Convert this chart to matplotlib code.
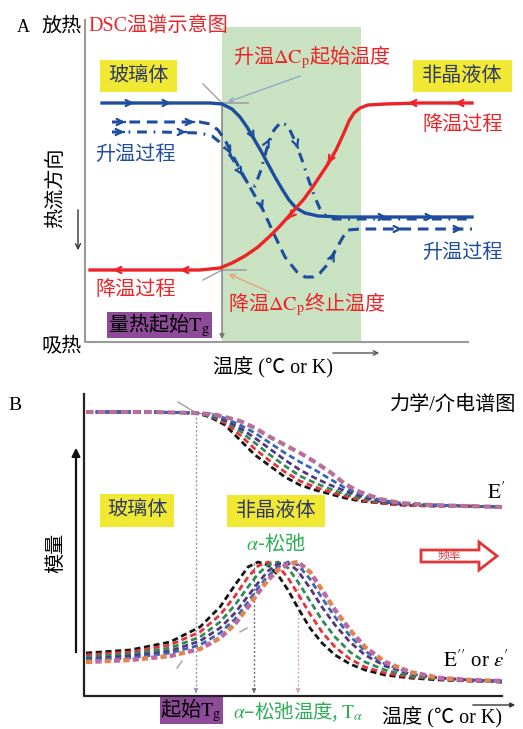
import matplotlib.pyplot as plt
from matplotlib.patches import Rectangle, FancyArrow

plt.rcParams['mathtext.fontset'] = 'stix'
CJK = 'Noto Sans CJK SC'
MIX = ['Liberation Serif', 'Noto Sans CJK SC']

BLUE = '#1f4d9e'
RED = '#ec2327'
GRN = '#2fae57'
YEL = '#f1e833'
PUR = '#8d4b98'
TXT_BOX = '#2d3a66'

# ---------------- panel A : DSC (picture units, y grows downward) ----------------
heat_solid_x = [102, 160, 210, 222, 232, 240, 247, 254, 261, 268, 275, 282, 289, 296, 305, 318, 340, 472]
heat_solid_y = [103, 103, 103, 104, 109, 117, 127, 139, 151, 164, 177, 189, 200, 208, 213, 216, 217, 217]

heat_dash_x = [112, 160, 200, 210, 218, 225, 233, 240, 247, 255, 263, 273, 285, 297, 305, 313, 320, 327, 335, 343, 348, 360, 472]
heat_dash_y = [122, 122, 122, 124, 130, 140, 156, 169, 182, 196, 210, 232, 257, 272, 277, 277, 273, 265, 251, 237, 230, 229, 229]

heat_dd_x = [112, 160, 200, 212, 222, 232, 242, 249, 255, 261, 267, 274, 281, 288, 295, 302, 308, 314, 320, 326, 334, 345, 472]
heat_dd_y = [132, 132, 133, 136, 144, 158, 174, 185, 186, 170, 148, 130, 122, 126, 141, 160, 178, 195, 209, 216, 219, 219, 219]

cool_x = [472, 420, 385, 368, 360, 354, 349, 343, 336, 328, 320, 312, 304, 296, 288, 280, 270, 258, 245, 232, 220, 200, 150, 90]
cool_y = [103, 103, 104, 105, 108, 113, 121, 135, 150, 164, 176, 188, 199, 208, 217, 226, 236, 247, 256, 263, 268, 270, 270, 270]

# arrow marks along the curves: x, y, direction x, direction y
blue_marks = [(137, 103, 1, 0), (174, 103, 1, 0), (256, 142, 0.55, 1), (390, 217, 1, 0), (437, 217, 1, 0),
              (128, 122, 1, 0), (197, 122, 1, 0), (232, 157, 0.45, 1), (264, 212, 0.4, 1), (336, 250, 0.5, -1),
              (405, 229, 1, 0), (465, 229, 1, 0),
              (127, 132, 1, 0), (189, 132, 1, 0), (244, 178, 0.6, 1), (271, 136, 0.5, -1), (299, 151, 0.35, 1)]
red_marks = [(405, 103, -1, 0), (452, 103, -1, 0), (326, 166, -0.6, 1), (286, 221, -0.8, 0.9),
             (177, 270, -1, 0), (110, 270, -1, 0)]

# ---------------- panel B : DMA / dielectric ----------------
ep_x = [86, 150, 196, 210, 225, 240, 255, 270, 285, 300, 315, 330, 345, 360, 380, 400, 430, 465, 502]
ep_black = [412, 412, 413, 417, 425, 440, 455, 466, 477, 485, 490, 494, 498, 501, 503, 505, 506, 506, 507]
ep_red = [412, 412, 413, 416, 423, 435, 449, 461, 472, 481, 487, 492, 496, 500, 503, 505, 506, 506, 507]
ep_green = [412, 412, 413, 416, 421, 431, 443, 455, 466, 476, 483, 489, 494, 498, 502, 504, 505, 506, 507]
ep_purple = [412, 412, 413, 415, 420, 428, 438, 449, 460, 470, 478, 485, 491, 496, 501, 504, 505, 506, 507]
ep_blue = [412, 412, 413, 415, 418, 425, 433, 443, 453, 462, 470, 479, 488, 494, 500, 503, 505, 506, 507]
ep_mauve = [412, 412, 413, 414, 417, 421, 428, 437, 445, 453, 462, 472, 484, 492, 499, 503, 505, 506, 507]

epp_x = [86, 130, 170, 200, 220, 235, 248, 258, 268, 278, 288, 298, 310, 322, 335, 350, 365, 385, 410, 440, 470, 502]
epp_black = [653, 650, 642, 627, 607, 585, 567, 562, 565, 575, 590, 608, 628, 643, 655, 664, 670, 675, 678, 680, 681, 682]
epp_red = [655, 652, 645, 632, 615, 596, 577, 566, 562, 566, 578, 594, 614, 632, 647, 659, 667, 673, 677, 679, 681, 682]
epp_green = [657, 654, 648, 637, 622, 605, 587, 574, 565, 562, 568, 582, 601, 620, 637, 652, 662, 670, 676, 679, 680, 682]
epp_purple = [659, 656, 651, 641, 628, 613, 596, 583, 571, 564, 563, 571, 588, 607, 625, 642, 655, 666, 674, 678, 680, 681]
epp_blue = [660, 658, 653, 645, 633, 619, 602, 588, 576, 567, 562, 565, 579, 598, 617, 636, 651, 664, 673, 678, 680, 681]
epp_mauve = [662, 660, 656, 649, 638, 624, 607, 593, 580, 570, 564, 562, 572, 590, 610, 630, 647, 662, 672, 678, 680, 681]

freq_colors = ['#151515', '#e8303a', '#2e8b57', '#55357e', '#3566b8', '#b8689c']

fig = plt.figure(figsize=(5.23, 7.29), dpi=100)
ax = fig.add_axes([0, 0, 1, 1])
ax.set_xlim(0, 523)
ax.set_ylim(729, 0)
ax.axis('off')


def mark(x, y, dx, dy, color):
    n = (dx * dx + dy * dy) ** 0.5
    ax.annotate('', xy=(x, y), xytext=(x - 6 * dx / n, y - 6 * dy / n),
                arrowprops=dict(arrowstyle='->', color=color, lw=1.6, mutation_scale=11))


def box(x, y, w, h, color, label, size=14.5, fam=MIX, tc=TXT_BOX):
    ax.add_patch(Rectangle((x, y), w, h, color=color, lw=0, zorder=2))
    ax.text(x + w / 2, y + h / 2, label, ha='center', va='center', fontsize=size,
            family=fam, color=tc, zorder=3)


# ---- panel A frame ----
ax.add_patch(Rectangle((222, 27), 139, 315, color='#c9e3c2', lw=0, zorder=0))
ax.plot([85, 85, 468], [20, 342, 342], color='#9a9a9a', lw=1.5, zorder=1)
ax.annotate('', xy=(222, 342), xytext=(222, 103),
            arrowprops=dict(arrowstyle='-|>', color='#777777', lw=1, mutation_scale=7))
ax.plot([203, 222], [84, 103], color='#a0a0a0', lw=1)
ax.plot([222, 248], [103, 103], color='#a0a0a0', lw=1.2)
ax.plot([203, 222], [280, 270], color='#a0a0a0', lw=1)
ax.plot([222, 246], [270, 270], color='#a0a0a0', lw=1.2)

ax.plot(heat_dd_x, heat_dd_y, color=BLUE, lw=2.2, dashes=(3.2, 2.2, 0.6, 2.2), zorder=3)
ax.plot(heat_dash_x, heat_dash_y, color=BLUE, lw=2.2, dashes=(3.5, 2.2), zorder=3)
ax.plot(heat_solid_x, heat_solid_y, color=BLUE, lw=2.4, zorder=4)
ax.plot(cool_x, cool_y, color=RED, lw=2.4, zorder=5)
for m in blue_marks:
    mark(*m, BLUE)
for m in red_marks:
    mark(*m, RED)

ax.text(17, 27, 'A', fontsize=13, family=MIX, va='center')
ax.text(41, 27, '放热', fontsize=14.5, family=MIX, va='center')
ax.text(88, 26, 'DSC温谱示意图', fontsize=14.5, family=MIX, va='center', color=RED)
ax.text(233, 57, r'升温$\Delta\mathrm{C}_\mathrm{p}$起始温度', fontsize=14.5, family=CJK,
        va='center', color=RED)
ax.annotate('', xy=(225, 103), xytext=(303, 75),
            arrowprops=dict(arrowstyle='->', color='#8fa9c9', lw=1, mutation_scale=9))
box(100, 60, 77, 32, YEL, '玻璃体')
box(413, 60, 99, 32, YEL, '非晶液体')
ax.text(422, 125, '降温过程', fontsize=14.5, family=MIX, va='center', color=RED)
ax.text(95, 155, '升温过程', fontsize=14.5, family=MIX, va='center', color=BLUE)
ax.text(422, 253, '升温过程', fontsize=14.5, family=MIX, va='center', color=BLUE)
ax.text(95, 290, '降温过程', fontsize=14.5, family=MIX, va='center', color=RED)
ax.text(228, 304, r'降温$\Delta\mathrm{C}_\mathrm{p}$终止温度', fontsize=14.5, family=CJK,
        va='center', color=RED)
ax.annotate('', xy=(226, 273), xytext=(272, 293),
            arrowprops=dict(arrowstyle='->', color='#e9a27f', lw=1, mutation_scale=9))
ax.text(57, 188, '热流方向', fontsize=14.5, family=MIX, rotation=90, ha='center', va='center')
ax.annotate('', xy=(78, 253), xytext=(78, 207),
            arrowprops=dict(arrowstyle='->', color='#333333', lw=1, mutation_scale=9))
ax.add_patch(Rectangle((107, 312), 105, 26, color=PUR, lw=0))
ax.text(108, 325, r'量热起始$\mathrm{T}_\mathrm{g}$', fontsize=14.5, family=CJK, va='center')
ax.text(41, 347, '吸热', fontsize=14.5, family=MIX, va='center')
ax.text(213, 367, '温度 (℃ or K)', fontsize=14.5, family=MIX, va='center')
ax.annotate('', xy=(382, 353), xytext=(330, 353),
            arrowprops=dict(arrowstyle='->', color='#555555', lw=1, mutation_scale=8))

# ---- panel B frame ----
ax.plot([84, 84, 502], [394, 696, 696], color='#222222', lw=1.6)
ax.annotate('', xy=(76, 445), xytext=(76, 655),
            arrowprops=dict(arrowstyle='-|>', color='#111111', lw=1.6, mutation_scale=12))
ax.annotate('', xy=(518, 705), xytext=(470, 705),
            arrowprops=dict(arrowstyle='-|>', color='#333333', lw=1, mutation_scale=7))
ax.plot([178, 196], [402, 413], color='#a0a0a0', lw=1)
ax.plot([196, 218], [413, 413], color='#a0a0a0', lw=1)
ax.plot([177, 182], [668, 661], color='#a0a0a0', lw=1)
ax.plot([240, 247], [632, 628], color='#a0a0a0', lw=1)

for vx, vtop, vc in [(196, 413, '#9c8fc0'), (254, 563, '#6f6f6f'), (298, 563, '#d8a7b8')]:
    ax.plot([vx, vx], [vtop, 692], color=vc, lw=1, ls=(0, (1.5, 1.5)))
    ax.annotate('', xy=(vx, 696), xytext=(vx, 689),
                arrowprops=dict(arrowstyle='-|>', color=vc, lw=0.8, mutation_scale=6))

ep_all = [ep_black, ep_red, ep_green, ep_purple, ep_blue]
epp_all = [epp_black, epp_red, epp_green, epp_purple, epp_blue]
for yy, c in zip(ep_all, freq_colors):
    ax.plot(ep_x, yy, color=c, lw=2, dashes=(2.2, 1.3))
ax.plot(ep_x, ep_mauve, color='#b8709a', lw=3, dashes=(1.8, 1.0))
for yy, c in zip(epp_all, freq_colors):
    ax.plot(epp_x, yy, color=c, lw=2, dashes=(2.2, 1.3))
ax.plot(epp_x, epp_mauve, color='#e3834f', lw=3.2, ls=(0, (1.4, 2.8)))
ax.plot(epp_x, epp_mauve, color='#c1689e', lw=3.2, ls=(2.1, (1.4, 2.8)))

ax.text(8, 405, 'B', fontsize=14, family=MIX, va='center')
ax.text(390, 405, '力学/介电谱图', fontsize=14.5, family=MIX, va='center')
ax.text(487, 493, r"$\mathrm{E}'$", fontsize=15, family=MIX, va='center')
box(100, 494, 74, 33, YEL, '玻璃体')
box(227, 495, 98, 32, YEL, '非晶液体')
ax.text(276, 544, r'$\alpha$-松弛', fontsize=14.5, family=CJK, ha='center', va='center', color=GRN)
ax.add_patch(FancyArrow(421, 556, 58, 0, width=12, head_width=28, head_length=18,
                        length_includes_head=False, fc='white', ec='#e0363a', lw=2))
ax.text(449, 556, '频率', fontsize=8.5, family=MIX, ha='center', va='center', color='#e0363a')
ax.text(57, 553, '模量', fontsize=14.5, family=MIX, rotation=90, ha='center', va='center')
ax.text(443, 661, r"$\mathrm{E}''$ or $\varepsilon'$", fontsize=15, family=MIX, va='center')
ax.add_patch(Rectangle((160, 697), 63, 27, color=PUR, lw=0))
ax.text(191, 710, r'起始$\mathrm{T}_\mathrm{g}$', fontsize=14.5, family=CJK, ha='center', va='center')
ax.text(233, 712, r'$\alpha$–松弛温度, $\mathrm{T}_\alpha$', fontsize=14, family=CJK,
        va='center', color=GRN)
ax.text(382, 717, '温度 (℃ or K)', fontsize=14.5, family=MIX, va='center')

fig.savefig('out.png', dpi=100)
